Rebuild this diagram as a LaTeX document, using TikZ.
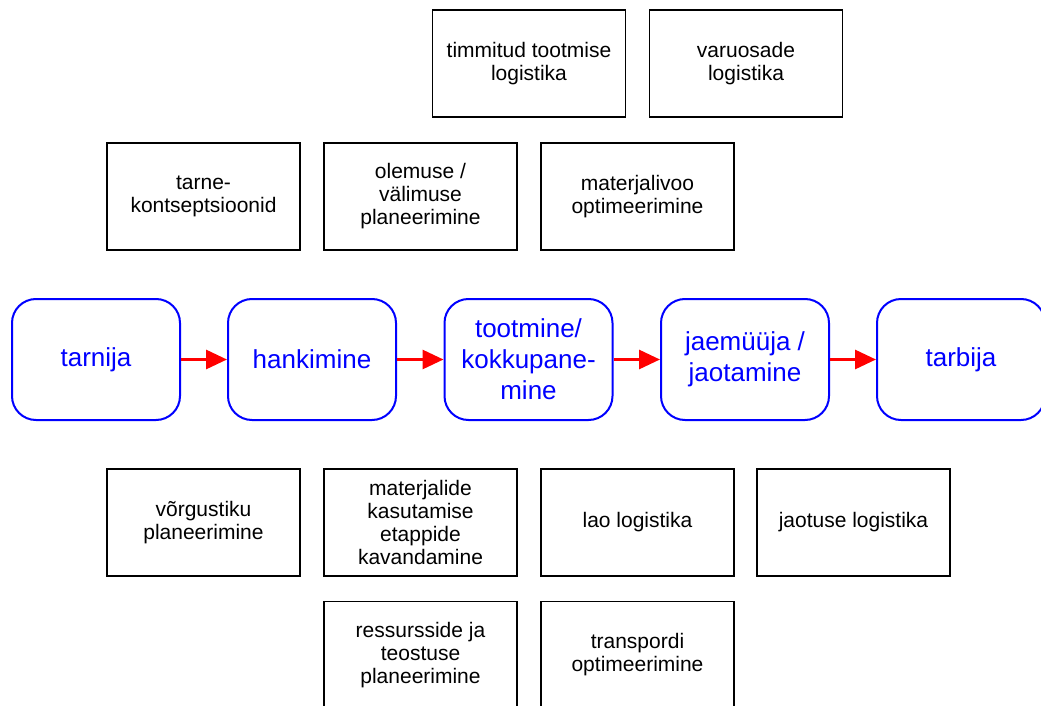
\documentclass[tikz,border=0pt]{standalone}
\usepackage{fontspec}
\setmainfont{Liberation Sans}
\usetikzlibrary{arrows.meta}
\begin{document}
\begin{tikzpicture}[x=1pt,y=-1pt,
  box/.style={draw=black,line width=1.6pt,minimum width=193pt,minimum height=107pt,align=center,inner sep=0pt,font=\fontsize{21}{23}\selectfont,text=black},
  stage/.style={draw=blue,line width=2pt,rounded corners=24pt,minimum width=168pt,minimum height=121pt,align=center,inner sep=0pt,font=\fontsize{26}{31}\selectfont,text=blue},
  flow/.style={draw=red,line width=3pt,-{Triangle[length=21pt,width=19pt]}}]
\useasboundingbox (0,0) rectangle (1041,706);
% top rows
\node[box] (tl) at (529,63.5) {timmitud tootmise\\logistika};
\node[box] (vl) at (746,63.5) {varuosade\\logistika};
\node[box] (tk) at (203.5,196.5) {tarne-\\kontseptsioonid};
\node[box] (ov) at (420.5,196.5) {olemuse /\\välimuse\\planeerimine};
\node[box] (mo) at (637.5,196.5) {materjalivoo\\optimeerimine};
% stages
\node[stage] (s1) at (96,359.5) {tarnija};
\node[stage] (s2) at (312,359.5) {hankimine};
\node[stage] (s3) at (528.5,359.5) {tootmine/\\kokkupane-\\mine};
\node[stage] (s4) at (745,359.5) {jaemüüja /\\jaotamine};
\node[stage] (s5) at (961,359.5) {tarbija};
\draw[flow] (s1) -- (s2);
\draw[flow] (s2) -- (s3);
\draw[flow] (s3) -- (s4);
\draw[flow] (s4) -- (s5);
% bottom rows
\node[box] (vp) at (203.5,522.5) {võrgustiku\\planeerimine};
\node[box] (mk) at (420.5,522.5) {materjalide\\kasutamise\\etappide\\kavandamine};
\node[box] (ll) at (637.5,522.5) {lao logistika};
\node[box] (jl) at (853.5,522.5) {jaotuse logistika};
\node[box] (rt) at (420.5,655) {ressursside ja\\teostuse\\planeerimine};
\node[box] (to) at (637.5,655) {transpordi\\optimeerimine};
\end{tikzpicture}
\end{document}
